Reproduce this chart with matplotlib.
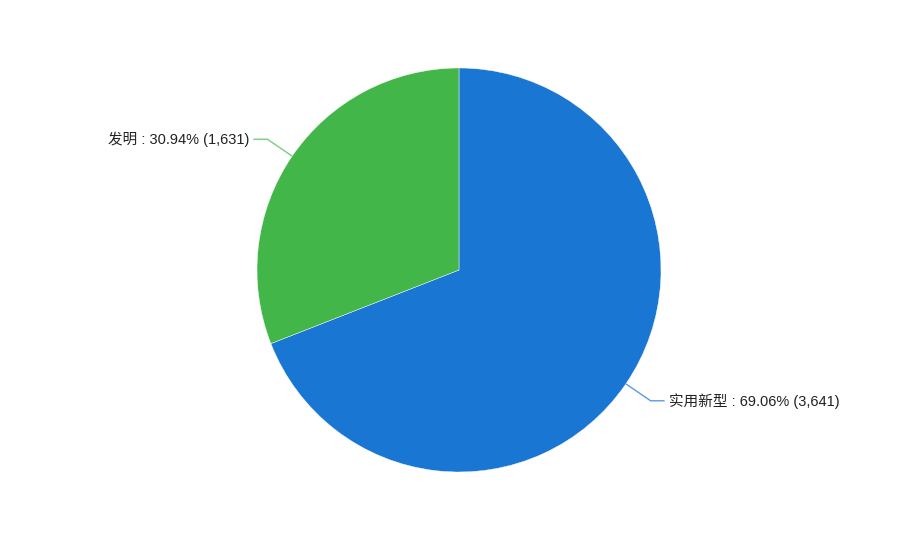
import numpy as np
import matplotlib
matplotlib.use("Agg")
import matplotlib.pyplot as plt

categories = ["实用新型", "发明"]
values = [3641, 1631]
colors = ["#1976D2", "#43B64A"]
line_colors = ["#5A9BE0", "#7BCB80"]

plt.rcParams['font.family'] = ['Liberation Sans', 'Noto Sans CJK SC', 'DejaVu Sans']

W, H = 918, 540
cx, cy, R = 459, 270, 202
fig = plt.figure(figsize=(W / 100, H / 100), dpi=100)
ax = fig.add_axes([0, 0, 1, 1])

wedges, _ = ax.pie(values, colors=colors, startangle=90, counterclock=False,
                   radius=1, center=(0, 0),
                   wedgeprops=dict(edgecolor='white', linewidth=0.3))

ax.set_xlim(-cx / R, (W - cx) / R)
ax.set_ylim(-(H - cy) / R, cy / R)
ax.set_aspect('equal')
ax.axis('off')

total = sum(values)
for w, cat, v, lc in zip(wedges, categories, values, line_colors):
    ang = np.deg2rad((w.theta1 + w.theta2) / 2)
    x0, y0 = np.cos(ang), np.sin(ang)
    r2 = 232 / R
    x1, y1 = r2 * np.cos(ang), r2 * np.sin(ang)
    side = 1 if x0 > 0 else -1
    x2 = x1 + side * 14 / R
    ax.plot([x0, x1, x2], [y0, y1, y1], color=lc, lw=1, solid_capstyle='butt')
    pct = v / total * 100
    label = f"{cat} : {pct:.2f}% ({v:,})"
    ax.text(x2 + side * 4 / R, y1, label, ha='left' if side > 0 else 'right',
            va='center', fontsize=10.5, color='#222222')

fig.savefig("out.png", dpi=100)
